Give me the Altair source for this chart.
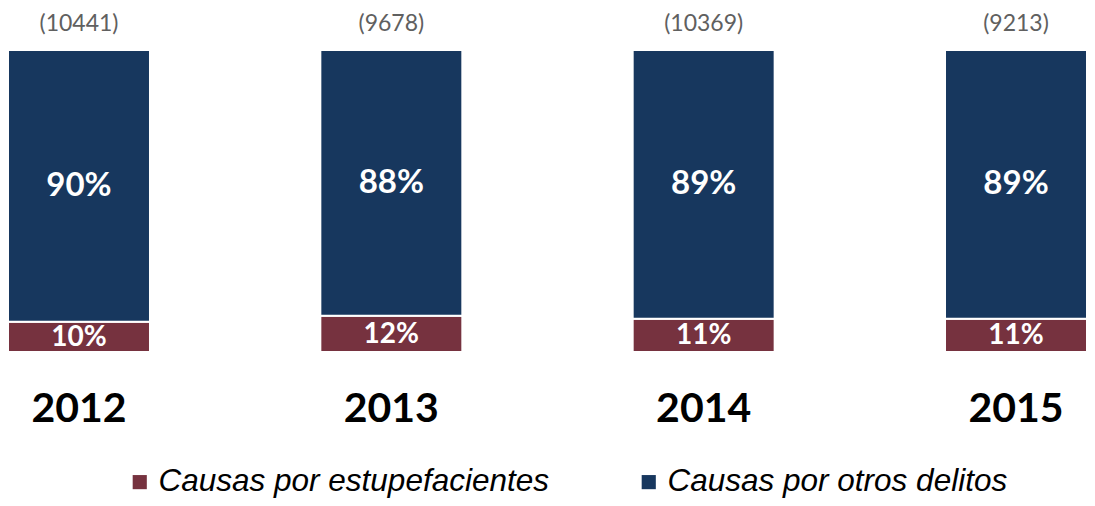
import altair as alt
import pandas as pd

years = ["2012", "2013", "2014", "2015"]
pct_estupefacientes = [10, 12, 11, 11]
pct_otros = [90, 88, 89, 89]
totals = [10441, 9678, 10369, 9213]
series = ["Causas por estupefacientes", "Causas por otros delitos"]
colors = ["#76323F", "#17375E"]

rows = []
for i, y in enumerate(years):
    rows.append({"year": y, "serie": series[0], "pct": pct_estupefacientes[i], "ord": 0})
    rows.append({"year": y, "serie": series[1], "pct": pct_otros[i], "ord": 1})
df = pd.DataFrame(rows)
tot_df = pd.DataFrame({"year": years, "total": totals})
tot_df["label"] = "(" + tot_df["total"].astype(str) + ")"

xscale = alt.Scale(domain=years, paddingInner=0.5454, paddingOuter=0)
yscale = alt.Scale(domain=[0, 100])
X = alt.X("year:N", scale=xscale, axis=None)

bars = alt.Chart(df).mark_bar(stroke="white", strokeWidth=2).encode(
    x=X,
    y=alt.Y("pct:Q", stack="zero", scale=yscale, axis=None),
    color=alt.Color(
        "serie:N",
        scale=alt.Scale(domain=series, range=colors),
        legend=alt.Legend(
            title=None,
            orient="none",
            direction="horizontal",
            legendX=116,
            legendY=416,
            symbolType="square",
            symbolSize=200,
            symbolStrokeWidth=0,
            labelFont="Liberation Sans",
            labelFontStyle="italic",
            labelFontSize=31.5,
            labelColor="#000000",
            labelOffset=3,
            columnPadding=84,
            labelLimit=600,
        ),
    ),
    order=alt.Order("ord:Q"),
)

stacked = alt.Chart(df).transform_stack(
    stack="pct", groupby=["year"], as_=["y0", "y1"], sort=[alt.SortField("ord")]
).transform_calculate(
    mid="(datum.y0 + datum.y1) / 2", label="datum.pct + '%'"
)

lab_top = stacked.transform_filter(alt.datum.ord == 1).mark_text(
    color="white", font="Lato", fontWeight="bold", fontSize=33, baseline="middle"
).encode(x=X, y=alt.Y("mid:Q", scale=yscale), text="label:N")

lab_bot = stacked.transform_filter(alt.datum.ord == 0).mark_text(
    color="white", font="Lato", fontWeight="bold", fontSize=28, baseline="middle", dy=1
).encode(x=X, y=alt.Y("mid:Q", scale=yscale), text="label:N")

tot_text = alt.Chart(tot_df).mark_text(
    color="#606060", font="Lato", fontSize=23, baseline="middle", dy=-26
).encode(x=X, y=alt.datum(100, scale=yscale), text="label:N")

year_text = alt.Chart(tot_df).mark_text(
    color="#000000", font="Lato", fontWeight="bold", fontSize=41, baseline="middle", dy=58
).encode(x=X, y=alt.datum(0, scale=yscale), text="year:N")

chart = alt.layer(bars, lab_top, lab_bot, tot_text, year_text).properties(
    width=1079,
    height=302,
    autosize=alt.AutoSizeParams(type="none"),
    padding={"left": 0, "top": 42, "right": 0, "bottom": 146},
).configure_view(stroke=None)

chart.save("out.html", embed_options={"renderer": "svg", "actions": False})
